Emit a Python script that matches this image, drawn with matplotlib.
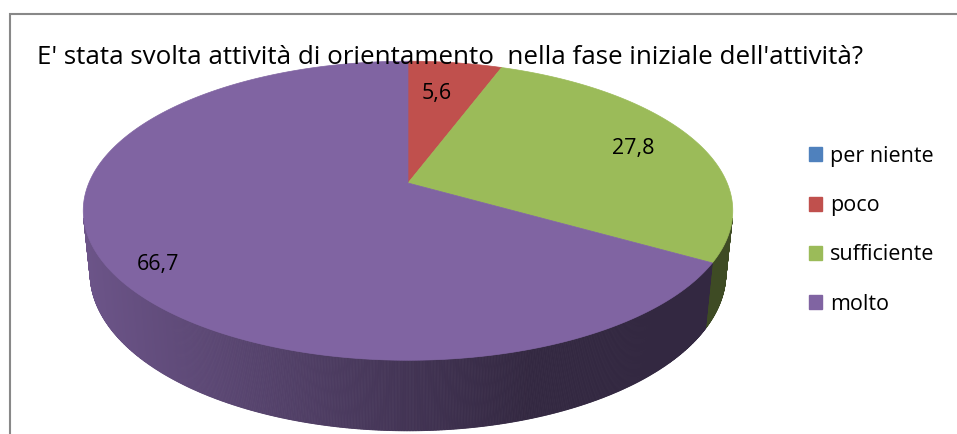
import numpy as np
import matplotlib
matplotlib.use("Agg")
import matplotlib.pyplot as plt
from matplotlib.patches import Polygon, Patch
from matplotlib.colors import to_rgb

plt.rcParams["font.family"] = ["Open Sans", "DejaVu Sans"]

# data
categories = ["per niente", "poco", "sufficiente", "molto"]
values = [0.0, 5.6, 27.8, 66.7]
value_labels = ["", "5,6", "27,8", "66,7"]
title = "E' stata svolta attività di orientamento  nella fase iniziale dell'attività?"

colors = ["#4F81BD", "#C0504D", "#9BBB59", "#8064A2"]

# 3d pie projection (pixel space of the figure)
CX, CY = 408, 183
FOC = 1535
ELEV = np.radians(26.9)
DIST = 4.81
DEPTH = 0.22
label_r = [0.7, 0.72, 0.8, 0.85]
label_dx = [0, -7, -3, 5]
label_dy = [0, 1, 3, 15]


def project(phi, r=1.0, z=0.0):
    x = r * np.sin(phi)
    y = r * np.cos(phi)
    s, c = np.sin(ELEV), np.cos(ELEV)
    w = DIST + y * c - z * s
    return CX + FOC * x / w, CY - FOC * (y * s + z * c) / w


def shade(col, sx):
    t = np.clip((sx - 85) / (530 - 85), 0, 1)
    k = 0.84 - 0.44 * t
    return tuple(np.array(to_rgb(col)) * k)


def fit_width(txt, target):
    # scale font so the text is as wide as in the original
    fig.canvas.draw()
    r = fig.canvas.get_renderer()
    w = txt.get_window_extent(r).width
    txt.set_fontsize(txt.get_fontsize() * target / w)


W, H = 957, 434
fig = plt.figure(figsize=(W / 100, H / 100), dpi=100)
ax = fig.add_axes([0, 0, 1, 1])
ax.set_xlim(0, W)
ax.set_ylim(H, 0)
ax.axis("off")

total = sum(values)
bounds = np.concatenate([[0], np.cumsum(values)]) / total * 2 * np.pi

# visible side range
lim = np.arccos(-1 / (DIST * np.cos(ELEV)))
vis_lo, vis_hi = lim, 2 * np.pi - lim

# sides first
for i, col in enumerate(colors):
    a0, a1 = max(bounds[i], vis_lo), min(bounds[i + 1], vis_hi)
    if a1 <= a0:
        continue
    phis = np.linspace(a0, a1, max(int((a1 - a0) / 0.004), 2))
    for p0, p1 in zip(phis[:-1], phis[1:]):
        tx0, ty0 = project(p0)
        tx1, ty1 = project(p1)
        bx1, by1 = project(p1, z=-DEPTH)
        bx0, by0 = project(p0, z=-DEPTH)
        fc = shade(col, (tx0 + tx1) / 2)
        ax.add_patch(Polygon([(tx0, ty0), (tx1, ty1), (bx1, by1), (bx0, by0)],
                             closed=True, facecolor=fc, edgecolor=fc, lw=0.6))

# top faces
for i, col in enumerate(colors):
    if values[i] <= 0:
        continue
    phis = np.linspace(bounds[i], bounds[i + 1], 300)
    px, py = project(phis)
    pts = [(CX, CY)] + list(zip(px, py))
    ax.add_patch(Polygon(pts, closed=True, facecolor=col, edgecolor=col, lw=0.5))

# value labels
for i, lab in enumerate(value_labels):
    if not lab:
        continue
    mid = (bounds[i] + bounds[i + 1]) / 2
    lx, ly = project(mid, r=label_r[i])
    ax.text(lx + label_dx[i], ly + label_dy[i], lab, fontsize=15.5,
            ha="center", va="center", color="black")

t = ax.text(37, 64, title, fontsize=16, ha="left", va="baseline", color="black")
fit_width(t, 829)

# legend
handles = [Patch(facecolor=c, edgecolor=c) for c in colors]
ax.legend(handles, categories, loc="upper left", bbox_to_anchor=(809, 146),
          bbox_transform=ax.transData, frameon=False, fontsize=15.5,
          handlelength=0.62, handleheight=0.62, handletextpad=0.35,
          labelspacing=1.31, borderpad=0, borderaxespad=0)

# chart border
ax.plot([9.5, 9.5, W], [H, 13.5, 13.5], color="#888888", lw=1.5,
        solid_joinstyle="miter")

fig.savefig("out.png", dpi=100)
